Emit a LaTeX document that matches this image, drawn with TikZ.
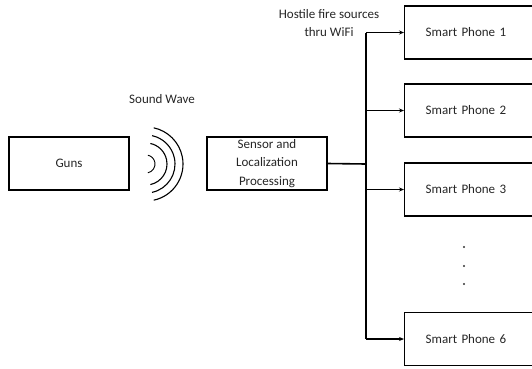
\documentclass[tikz,border=0pt]{standalone}
\usepackage{fontspec}
\setmainfont{Carlito}
\usepackage{tikz}
\usetikzlibrary{arrows.meta,positioning}

\tikzset{
    blk/.style={draw,line width=1.4pt,minimum width=120pt,minimum height=53pt,inner sep=0pt},
    phone/.style={draw,line width=1.4pt,minimum height=53pt,text width=94pt,inner xsep=21pt,inner ysep=0pt,align=left},
    txt/.style={font=\fontsize{13}{18.7}\selectfont,text=black!85},
    link/.style={line width=1.1pt,-{Stealth[length=5pt,width=4pt]}}
}

\begin{document}
\begin{tikzpicture}[x=1pt,y=-1pt,every node/.style={txt}]
            \useasboundingbox (0,0) rectangle (532,368);
            \clip (0,0) rectangle (532,368);
            \node[blk] (guns) at (69,163.5) {Guns};
            \node[blk,align=center] (sensor) at (267,163.5) {Sensor and\\Localization\\Processing};
            \node (wave) at (162,99) {Sound Wave};
            \node[align=center] (wifi) at (329,23) {Hostile fire sources\\thru WiFi};
            \node[phone,anchor=west] (p1) at (404,32.5) {Smart Phone 1};
            \node[phone,anchor=west] (p2) at (404,110.5) {Smart Phone 2};
            \node[phone,anchor=west] (p3) at (404,189.5) {Smart Phone 3};
            \node[phone,anchor=west] (p6) at (404,339) {Smart Phone 6};
            \foreach \y in {247,266,284}
                \fill[black!80] (464,\y) circle (1.2pt);
            \foreach \r/\w in {9/0.9,21/1.1,29/1.1,37/1.1}
                \draw[line width=\w pt] (146,164) ++(-78:\r pt) arc[start angle=-78,end angle=78,radius=\r pt];
            \coordinate (bus) at (366,164);
            \draw[line width=1.6pt] (sensor.east) -- (bus);
            \draw[line width=1.1pt] (bus |- p1.west) -- (bus |- p6.west);
            \foreach \p in {p1,p2,p3,p6}
                \draw[link] (bus |- \p.west) -- (\p.west);
        \end{tikzpicture}
\end{document}
